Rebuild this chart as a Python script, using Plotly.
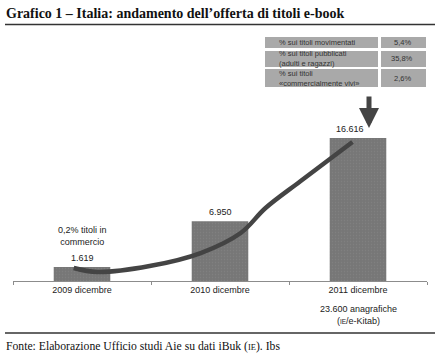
import plotly.graph_objects as go

W, H = 440, 359

# ---- data ----
categories = ["2009 dicembre", "2010 dicembre", "2011 dicembre"]
titles = [1619, 6950, 16616]
# decorative trend curve (x in category units, y in value units)
trend_x = [-0.06, 0.11, 0.49, 0.86, 1.15, 1.33, 1.58, 1.96]
trend_y = [1510, 1050, 1740, 3250, 5580, 8480, 11560, 16150]
table_labels = ["% sui titoli movimentati",
                "% sui titoli pubblicati<br>(adulti e ragazzi)",
                "% sui titoli<br>«commercialmente vivi»"]
table_values = ["5,4%", "35,8%", "2,6%"]
note_2009 = "0,2% titoli in<br>commercio"
note_2011 = "23.600 anagrafiche<br>(<span style='font-size:6.5px'>IE</span>/e-Kitab)"
title_text = "Grafico 1 – Italia: andamento dell’offerta di titoli e-book"
source_text = "Fonte: Elaborazione Ufficio studi Aie su dati iBuk (<span style='font-size:8.5px'>IE</span>). Ibs"


def px(x):
    return x / W


def py(y):
    return 1 - y / H


SANS = "Liberation Sans, Arial, sans-serif"
SERIF = "Liberation Serif, Times New Roman, serif"

fig = go.Figure()
xs = list(range(len(categories)))
fig.add_trace(go.Bar(
    x=xs, y=titles, width=0.41,
    marker=dict(color="#777777", line=dict(width=0),
                pattern=dict(shape=".", fgcolor="#8a8a8a", size=3, solidity=0.15)),
    hoverinfo="skip", showlegend=False,
))
fig.add_trace(go.Scatter(
    x=trend_x, y=trend_y, mode="lines",
    line=dict(color="#444444", width=4.5, shape="spline", smoothing=1.0),
    hoverinfo="skip", showlegend=False,
))

ymax = 16616 * 251 / 143
plot_x0, plot_x1 = 13, 427
base_y, top_y = 281, 30

fig.update_layout(
    width=W, height=H,
    margin=dict(l=0, r=0, t=0, b=0),
    paper_bgcolor="white", plot_bgcolor="white",
    showlegend=False,
    xaxis=dict(domain=[px(plot_x0), px(plot_x1)], range=[-0.5, 2.5],
               tickvals=xs, ticktext=categories, ticks="",
               showgrid=False, zeroline=False,
               showline=True, linecolor="#8c8c8c", linewidth=1,
               tickfont=dict(family=SANS, size=9, color="#222222"),
               minor=dict(tickvals=[-0.5, 0.5, 1.5, 2.5], ticks="outside",
                          ticklen=3, tickcolor="#8c8c8c", showgrid=False),
               fixedrange=True),
    yaxis=dict(domain=[py(base_y), py(top_y)], range=[0, ymax],
               visible=False, fixedrange=True),
)

annotations = []
# value labels
for i, v in enumerate(titles):
    annotations.append(dict(
        x=i, y=v, xref="x", yref="y", yanchor="bottom", yshift=2,
        xshift=-8 if i == 2 else 0,
        text=f"{v:,}".replace(",", "."), showarrow=False,
        font=dict(family=SANS, size=9, color="#222222")))
# note above 2009
annotations.append(dict(
    x=0, y=titles[0], xref="x", yref="y", yanchor="bottom", yshift=18,
    text=note_2009, showarrow=False, align="center",
    font=dict(family=SANS, size=9, color="#222222")))
# note under 2011
annotations.append(dict(
    x=2, y=py(302), xref="x", yref="paper", yanchor="top",
    text=note_2011, showarrow=False, align="center",
    font=dict(family=SANS, size=9, color="#222222")))
# arrow
annotations.append(dict(
    x=px(369), y=py(128), xref="paper", yref="paper",
    ax=0, ay=-33, text="", showarrow=True,
    arrowhead=2, arrowsize=0.8, arrowwidth=5, arrowcolor="#444444", standoff=0))
# title and source
annotations.append(dict(
    x=px(4), y=py(4), xref="paper", yref="paper", xanchor="left", yanchor="top",
    text="<b>" + title_text + "</b>", showarrow=False,
    font=dict(family=SERIF, size=14, color="#111111")))
annotations.append(dict(
    x=px(4), y=py(346), xref="paper", yref="paper", xanchor="left", yanchor="middle",
    text=source_text, showarrow=False,
    font=dict(family=SERIF, size=11.7, color="#111111")))

shapes = [
    dict(type="line", xref="paper", yref="paper", x0=px(5), x1=px(435),
         y0=py(24.5), y1=py(24.5), line=dict(color="#333333", width=1.5)),
    dict(type="line", xref="paper", yref="paper", x0=px(5), x1=px(435),
         y0=py(333), y1=py(333), line=dict(color="#333333", width=1.5)),
]

# table
rows_y = [(37, 48), (51, 67), (69, 87)]
col1 = (265, 378)
col2 = (381, 426)
for (y0, y1), lab, val in zip(rows_y, table_labels, table_values):
    for (x0, x1) in (col1, col2):
        shapes.append(dict(type="rect", xref="paper", yref="paper",
                           x0=px(x0), x1=px(x1), y0=py(y1), y1=py(y0),
                           fillcolor="#a9a9a9", line=dict(width=0), layer="below"))
    ym = py((y0 + y1) / 2)
    annotations.append(dict(
        x=px(277), y=ym, xref="paper", yref="paper", xanchor="left", yanchor="middle",
        text=lab, showarrow=False, align="left",
        font=dict(family=SANS, size=7.5, color="#333333")))
    annotations.append(dict(
        x=px(402), y=ym, xref="paper", yref="paper",
        xanchor="center", yanchor="middle",
        text=val, showarrow=False,
        font=dict(family=SANS, size=7.5, color="#333333")))

fig.update_layout(annotations=annotations, shapes=shapes)
fig.write_html("out.html", post_script="document.body.style.margin='0';",
               config={"displayModeBar": False, "staticPlot": True})
